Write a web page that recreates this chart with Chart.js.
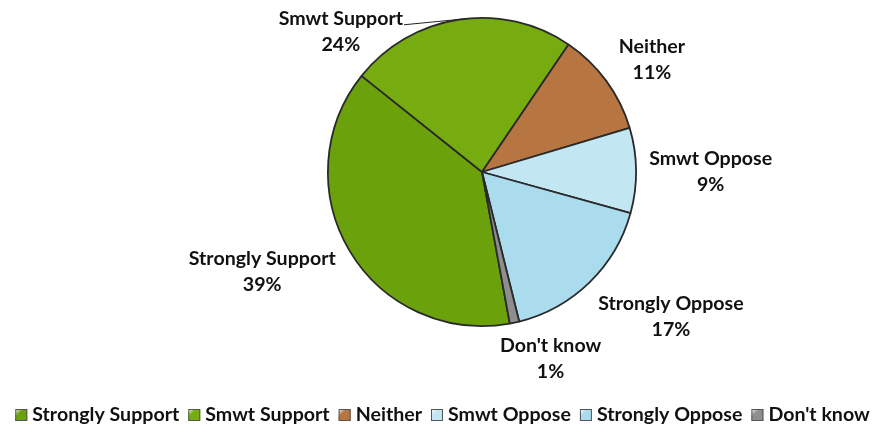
<!DOCTYPE html>
<html>
<head>
<meta charset="utf-8">
<script src="https://cdn.jsdelivr.net/npm/chart.js@4.4.0/dist/chart.umd.min.js"></script>
<style>
  html, body { margin: 0; padding: 0; background: #ffffff; }
  #wrap { width: 885px; height: 437px; position: relative; }
</style>
</head>
<body>
<div id="wrap"><canvas id="chart" width="885" height="437"></canvas></div>
<script>
// Survey answers, in legend order
const categories = ['Strongly Support', 'Smwt Support', 'Neither', 'Smwt Oppose', 'Strongly Oppose', "Don't know"];
const shares = [39, 24, 11, 9, 17, 1];
const sliceColors = ['#6ba20b', '#76ac0f', '#b77541', '#c2e7f3', '#abdcee', '#8e8e8e'];

// Where each value label sits, in pie radii from the centre (x right, y down)
const labelOffsets = [
  [-1.426, 0.648],
  [-0.916, -0.910],
  [1.103, -0.726],
  [1.484, 0.000],
  [1.226, 0.942],
  [0.445, 1.210]
];

const FONT = 'Lato, "Liberation Sans", sans-serif';
const TEXT_SIZE = 19.6;

// Outside value labels, plus a leader line for the label that sits near the rim
const valueLabels = {
  id: 'valueLabels',
  afterDatasetsDraw(chart) {
    const ctx = chart.ctx;
    const arcs = chart.getDatasetMeta(0).data;
    const cx = arcs[0].x, cy = arcs[0].y, r = arcs[0].outerRadius;
    ctx.save();
    ctx.font = 'bold ' + TEXT_SIZE + 'px ' + FONT;
    ctx.fillStyle = '#111111';
    ctx.textAlign = 'center';
    ctx.textBaseline = 'middle';
    const gap = 26;
    categories.forEach((name, i) => {
      const x = cx + labelOffsets[i][0] * r;
      const y = cy + labelOffsets[i][1] * r;
      ctx.fillText(name, x, y - gap / 2);
      ctx.fillText(shares[i] + '%', x, y + gap / 2);
      if (i === 1) {
        // leader from the end of the name to the slice rim
        const w = ctx.measureText(name).width;
        const a = arcs[i].startAngle + (arcs[i].endAngle - arcs[i].startAngle) * 0.54;
        ctx.beginPath();
        ctx.strokeStyle = '#222222';
        ctx.lineWidth = 1;
        ctx.moveTo(x + w / 2 + 1, y - gap / 2 + 6);
        ctx.lineTo(cx + Math.cos(a) * r, cy + Math.sin(a) * r);
        ctx.stroke();
      }
    });
    ctx.restore();
  }
};

// Single-row legend centred under the pie
const bottomLegend = {
  id: 'bottomLegend',
  afterDraw(chart) {
    const ctx = chart.ctx;
    ctx.save();
    ctx.font = 'bold ' + TEXT_SIZE + 'px ' + FONT;
    ctx.textBaseline = 'middle';
    ctx.textAlign = 'left';
    const box = 12, boxGap = 5, itemGap = 9;
    const widths = categories.map(c => ctx.measureText(c).width);
    const total = widths.reduce((s, w) => s + box + boxGap + w, 0) + itemGap * (categories.length - 1);
    let x = chart.width / 2 - total / 2;
    const y = 415;
    categories.forEach((c, i) => {
      const g = ctx.createLinearGradient(x, y - box / 2, x + box, y + box / 2);
      g.addColorStop(0, '#ffffff');
      g.addColorStop(0.35, sliceColors[i]);
      g.addColorStop(1, sliceColors[i]);
      ctx.fillStyle = g;
      ctx.fillRect(x, y - box / 2, box, box);
      ctx.strokeStyle = '#555555';
      ctx.lineWidth = 1;
      ctx.strokeRect(x + 0.5, y - box / 2 + 0.5, box - 1, box - 1);
      x += box + boxGap;
      ctx.fillStyle = '#111111';
      ctx.fillText(c, x, y);
      x += widths[i] + itemGap;
    });
    ctx.restore();
  }
};

new Chart(document.getElementById('chart'), {
  type: 'pie',
  data: {
    labels: categories,
    datasets: [{
      data: shares,
      backgroundColor: sliceColors,
      borderColor: '#2a2a2a',
      borderWidth: 1.8
    }]
  },
  options: {
    responsive: false,
    animation: false,
    rotation: 169.6,
    layout: { padding: { top: 17, bottom: 110, left: 79, right: 0 } },
    plugins: {
      legend: { display: false },
      tooltip: { enabled: false }
    }
  },
  plugins: [valueLabels, bottomLegend]
});
</script>
</body>
</html>
